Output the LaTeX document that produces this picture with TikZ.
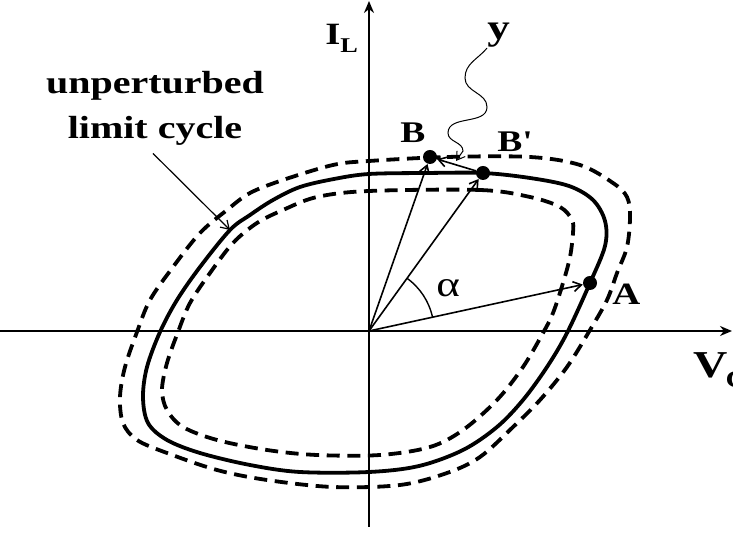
\documentclass[tikz,border=0pt]{standalone}
\usepackage{fontspec}
\newfontfamily\lblfont{Liberation Serif}[FakeStretch=1.25]
\usetikzlibrary{arrows.meta,calc}

\begin{document}
\begin{tikzpicture}[x=0.5pt, y=0.5pt, font=\lblfont\bfseries,
  axis/.style={line width=1pt, -{Stealth[length=6pt, width=5pt]}},
  vec/.style={line width=0.8pt, -{Straight Barb[length=4pt, width=5pt]}},
  dot/.style={circle, fill, inner sep=0pt, minimum size=7pt},
  lbl/.style={inner sep=0pt, anchor=base west},
  big/.style={font=\lblfont\bfseries\fontsize{#1}{#1}\selectfont},
  cyc/.style={line width=1.9pt, smooth cycle, tension=0.55},
  pert/.style={cyc, dash pattern=on 6.5pt off 3.8pt}]
\useasboundingbox (-369,-202) rectangle (364,331);
\coordinate (O) at (0,0);
\coordinate (xl) at (-369,0);
\coordinate (xr) at (363,0);
\coordinate (yb) at (0,-196);
\coordinate (yt) at (0,330);
% axes
\draw[axis] (xl) -- (xr);
\draw[axis] (yb) -- (yt);
% limit cycle and perturbed orbits
\draw[cyc] plot coordinates {(0,157) (57,158) (114,158) (161,153) (200,145) (224,131) (236,110) (236,85) (221,48) (198,-2) (178,-36) (154,-69) (128,-96) (94,-119) (50,-135) (0,-141) (-69,-141) (-119,-134) (-169,-122) (-202,-109) (-221,-92) (-226,-66) (-222,-36) (-209,-1) (-192,31) (-169,64) (-139,101) (-119,116) (-96,131) (-69,144) (-35,152)};
\draw[pert] plot coordinates {(0,170) (78,174) (161,174) (211,166) (244,148) (258,134) (261,114) (258,84) (248,58) (238,31) (221,1) (198,-36) (171,-69) (144,-96) (111,-126) (78,-142) (31,-154) (-36,-156) (-102,-149) (-152,-139) (-202,-122) (-232,-109) (-246,-92) (-249,-66) (-244,-36) (-232,-1) (-219,31) (-196,64) (-169,98) (-142,121) (-119,138) (-86,151) (-36,166)};
\draw[pert] plot coordinates {(0,140) (111,141) (161,134) (191,124) (203,111) (204,98) (201,74) (194,48) (184,18) (174,-2) (154,-36) (128,-69) (94,-99) (61,-116) (11,-124) (-52,-124) (-102,-119) (-152,-109) (-186,-96) (-202,-79) (-207,-59) (-202,-32) (-191,-1) (-179,28) (-159,58) (-136,88) (-112,108) (-86,121) (-52,134)};
% points
\node[dot] (A) at (221,48) {};
\node[dot] (B) at (61,174) {};
\node[dot] (Bp) at (114,158) {};
\draw[vec] (O) -- (A);
\draw[vec] (O) -- (B);
\draw[vec] (O) -- (Bp);
\draw[vec] (Bp) -- (B);
\draw[line width=0.7pt] (O) ++(12.3:65) arc[start angle=12.3, end angle=54.2, radius=65];
% labels
\node[lbl, big=15.5] (Alab) at (243,26) {A};
\node[lbl, big=15] (Blab) at (31,188) {B};
\node[lbl, big=15] (Bplab) at (128,179) {B'};
\node[lbl, font=\lblfont\fontsize{18}{18}\selectfont] (al) at (67,34) {α};
\node[lbl, big=15.5] (IL) at (-44,286) {I\raisebox{-4pt}{\fontsize{10.5}{10.5}\selectfont L}};
\node[lbl, big=19] (VC) at (324,-47) {V\kern-1pt\raisebox{-5pt}{\fontsize{12}{12}\selectfont C}};
\node[lbl, big=18] (ylab) at (118,291) {y};
\node[align=center, inner sep=0pt, font=\lblfont\bfseries\fontsize{16}{22.5}\selectfont] (ulc) at (-214,223) {unperturbed\\limit cycle};
\coordinate (lc) at (-139,101);
\draw[vec, line width=0.6pt] ([shift={(-2,-8)}]ulc.south) -- (lc);
\coordinate (yend) at (87,170);
\draw[vec, line width=0.5pt] (ylab.south west) to[out=230,in=90] (96,253) to[out=-90,in=90] (118,224) to[out=-90,in=90] (79,198) to[out=-90,in=90] (94,180) -- (yend);
\end{tikzpicture}
\end{document}
